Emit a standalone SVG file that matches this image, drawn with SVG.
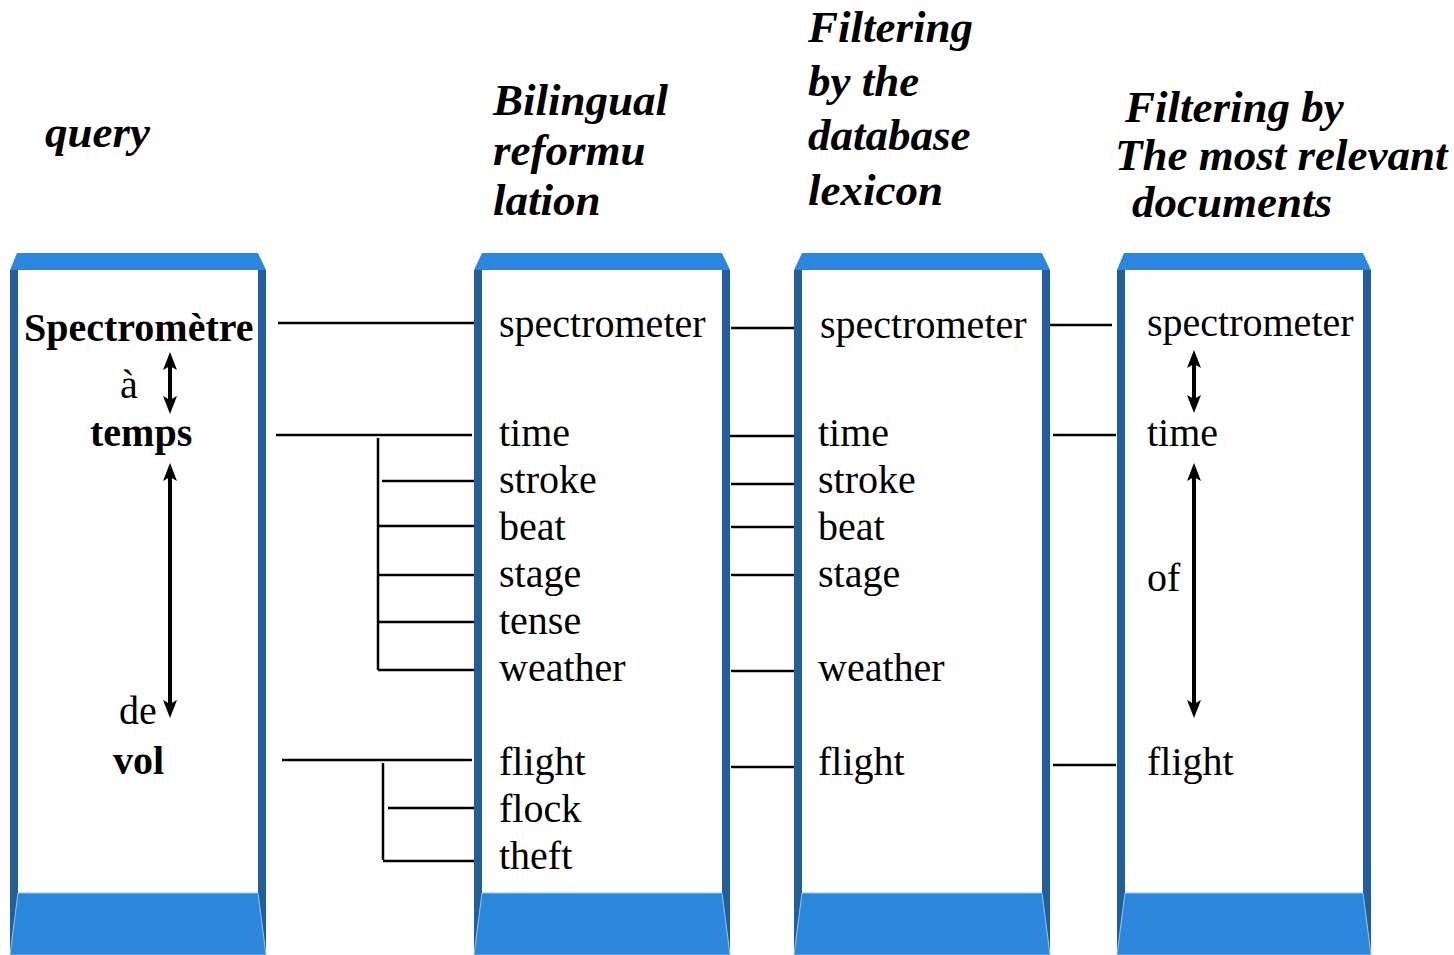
<svg xmlns="http://www.w3.org/2000/svg" width="1454" height="955" viewBox="0 0 1454 955">
<defs>
<style>
.top{fill:#2D86DE}
.side{fill:#215E9A}
.bot{fill:#2D86DE;stroke:#9CC3EA;stroke-width:1}
.inner{fill:#FFFFFF}
.w{font-family:"Liberation Serif","Times New Roman",serif;font-size:40px;fill:#000}
.b{font-family:"Liberation Serif","Times New Roman",serif;font-size:40px;font-weight:bold;fill:#000}
.h{font-family:"Liberation Serif","Times New Roman",serif;font-size:45px;font-weight:bold;font-style:italic;fill:#000}
.ln{stroke:#000;stroke-width:2.5;fill:none}
.ar{stroke:#000;stroke-width:4;fill:none}
.hd{fill:#000}
</style>
</defs>
<rect width="1454" height="955" fill="#FFFFFF"/>

<g id="headings">
<text class="h" x="45" y="147">query</text>
<text class="h" x="493" y="115">Bilingual</text>
<text class="h" x="493" y="165">reformu</text>
<text class="h" x="493" y="215">lation</text>
<text class="h" x="808" y="42">Filtering</text>
<text class="h" x="808" y="96">by the</text>
<text class="h" x="808" y="150">database</text>
<text class="h" x="808" y="205">lexicon</text>
<text class="h" x="1125" y="122">Filtering by</text>
<text class="h" x="1115" y="170">The most relevant</text>
<text class="h" x="1132" y="217">documents</text>
</g>

<g id="col1">
<rect class="inner" x="18" y="270" width="240" height="623"/>
<polygon class="top" points="17,253 258,253 266,270 10,270"/>
<rect class="side" x="10" y="270" width="8" height="685"/>
<rect class="side" x="258" y="270" width="8" height="685"/>
<polygon class="bot" points="18,893 258,893 266,955 10,955"/>
<text class="b" x="24" y="341">Spectromètre</text>
<text class="w" x="120" y="398">à</text>
<text class="b" x="90" y="446">temps</text>
<text class="w" x="119" y="724">de</text>
<text class="b" x="113" y="774">vol</text>
</g>

<g id="col2">
<rect class="inner" x="482" y="270" width="240" height="623"/>
<polygon class="top" points="482,253 722,253 730,270 474,270"/>
<rect class="side" x="474" y="270" width="8" height="685"/>
<rect class="side" x="722" y="270" width="8" height="685"/>
<polygon class="bot" points="482,893 722,893 730,955 474,955"/>
<text class="w" x="499" y="337">spectrometer</text>
<text class="w" x="499" y="446">time</text>
<text class="w" x="499" y="493">stroke</text>
<text class="w" x="499" y="540">beat</text>
<text class="w" x="499" y="587">stage</text>
<text class="w" x="499" y="634">tense</text>
<text class="w" x="499" y="681">weather</text>
<text class="w" x="499" y="775">flight</text>
<text class="w" x="499" y="822">flock</text>
<text class="w" x="499" y="869">theft</text>
</g>

<g id="col3">
<rect class="inner" x="802" y="270" width="240" height="623"/>
<polygon class="top" points="802,253 1042,253 1050,270 794,270"/>
<rect class="side" x="794" y="270" width="8" height="685"/>
<rect class="side" x="1042" y="270" width="8" height="685"/>
<polygon class="bot" points="802,893 1042,893 1050,955 794,955"/>
<text class="w" x="820" y="338">spectrometer</text>
<text class="w" x="818" y="446">time</text>
<text class="w" x="818" y="493">stroke</text>
<text class="w" x="818" y="540">beat</text>
<text class="w" x="818" y="587">stage</text>
<text class="w" x="818" y="681">weather</text>
<text class="w" x="818" y="775">flight</text>
</g>

<g id="col4">
<rect class="inner" x="1125" y="270" width="238" height="623"/>
<polygon class="top" points="1124,253 1363,253 1371,270 1117,270"/>
<rect class="side" x="1117" y="270" width="8" height="685"/>
<rect class="side" x="1363" y="270" width="8" height="685"/>
<polygon class="bot" points="1125,893 1363,893 1371,955 1117,955"/>
<text class="w" x="1147" y="336">spectrometer</text>
<text class="w" x="1147" y="446">time</text>
<text class="w" x="1147" y="591">of</text>
<text class="w" x="1147" y="775">flight</text>
</g>

<g id="connectors">
<line class="ln" x1="278" y1="323" x2="474" y2="323"/>
<line class="ln" x1="276" y1="435" x2="472" y2="435"/>
<line class="ln" x1="378" y1="438" x2="378" y2="670"/>
<line class="ln" x1="382" y1="481" x2="474" y2="481"/>
<line class="ln" x1="378" y1="526" x2="474" y2="526"/>
<line class="ln" x1="378" y1="575" x2="474" y2="575"/>
<line class="ln" x1="378" y1="622" x2="474" y2="622"/>
<line class="ln" x1="378" y1="670" x2="474" y2="670"/>
<line class="ln" x1="282" y1="760" x2="472" y2="760"/>
<line class="ln" x1="383" y1="763" x2="383" y2="860"/>
<line class="ln" x1="388" y1="808" x2="474" y2="808"/>
<line class="ln" x1="383" y1="861" x2="474" y2="861"/>

<line class="ln" x1="731" y1="328" x2="794" y2="328"/>
<line class="ln" x1="730" y1="436" x2="794" y2="436"/>
<line class="ln" x1="731" y1="484" x2="794" y2="484"/>
<line class="ln" x1="731" y1="527" x2="794" y2="527"/>
<line class="ln" x1="731" y1="575" x2="794" y2="575"/>
<line class="ln" x1="731" y1="671" x2="794" y2="671"/>
<line class="ln" x1="731" y1="767" x2="794" y2="767"/>

<line class="ln" x1="1050" y1="325" x2="1112" y2="325"/>
<line class="ln" x1="1053" y1="435" x2="1116" y2="435"/>
<line class="ln" x1="1053" y1="765" x2="1116" y2="765"/>

<line class="ar" x1="170" y1="362" x2="170" y2="404"/>
<polygon class="hd" points="170,352 177,370 170,366 163,370"/>
<polygon class="hd" points="170,414 177,396 170,400 163,396"/>
<line class="ar" x1="170" y1="473" x2="170" y2="708"/>
<polygon class="hd" points="170,463 177,481 170,477 163,481"/>
<polygon class="hd" points="170,718 177,700 170,704 163,700"/>
<line class="ar" x1="1194" y1="360" x2="1194" y2="403"/>
<polygon class="hd" points="1194,350 1201,368 1194,364 1187,368"/>
<polygon class="hd" points="1194,413 1201,395 1194,399 1187,395"/>
<line class="ar" x1="1194" y1="473" x2="1194" y2="708"/>
<polygon class="hd" points="1194,463 1201,481 1194,477 1187,481"/>
<polygon class="hd" points="1194,718 1201,700 1194,704 1187,700"/>
</g>
</svg>
